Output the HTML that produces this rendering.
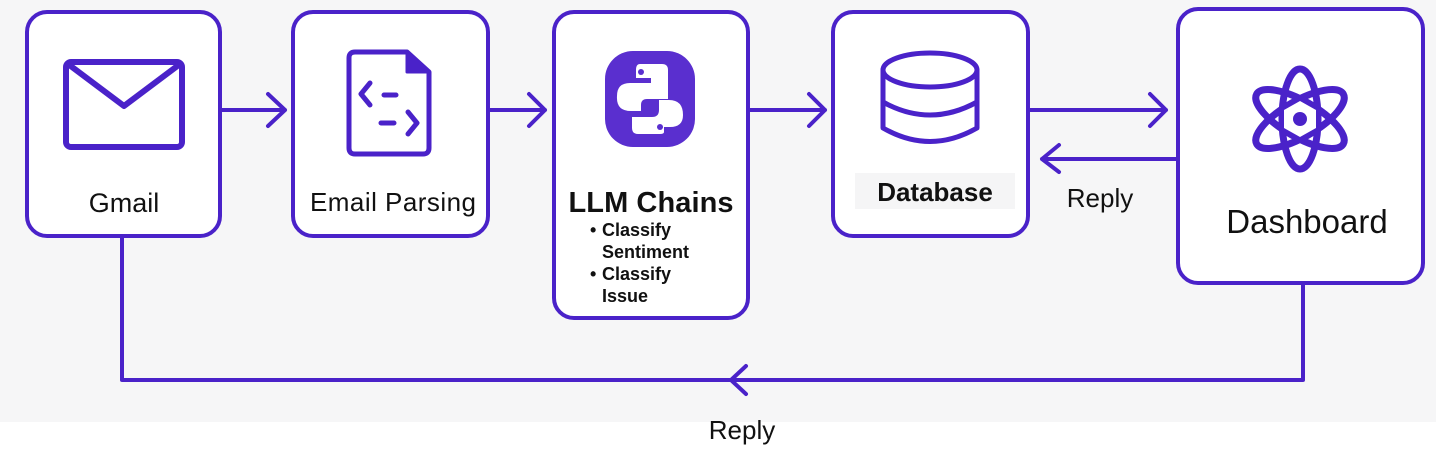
<!DOCTYPE html>
<html><head><meta charset="utf-8"><style>
html,body{margin:0;padding:0;background:#fff}
svg{display:block}
text{font-family:"Liberation Sans",sans-serif;fill:#111}
</style></head><body>
<svg width="1448" height="449" viewBox="0 0 1448 449" xmlns="http://www.w3.org/2000/svg">
<rect x="0" y="0" width="1436" height="422" fill="#f6f6f7"/>
<g fill="#fff" stroke="#4a22c9" stroke-width="4">
<rect x="27" y="12" width="193" height="224" rx="20"/>
<rect x="293" y="12" width="195" height="224" rx="20"/>
<rect x="554" y="12" width="194" height="306" rx="20"/>
<rect x="833" y="12" width="195" height="224" rx="20"/>
<rect x="1178" y="9" width="245" height="274" rx="20"/>
</g>
<g fill="none" stroke="#4a22c9" stroke-width="4" stroke-linecap="round" stroke-linejoin="round">
<path d="M220 110H285M268 94L285 110L268 126"/>
<path d="M488 110H545M529 94L545 110L529 126"/>
<path d="M748 110H825M809 94L825 110L809 126"/>
<path d="M1028 110H1166M1150 94L1166 110L1150 126"/>
<path d="M1178 159H1042M1059 145L1042 159L1059 172"/>
<path d="M122 236V380H1303V283" stroke-linecap="butt"/>
<path d="M746 366L731 380L746 394"/>
<!-- mail -->
<rect x="66" y="62" width="116" height="85" rx="5" stroke-width="6"/>
<path d="M68 64L124 106L180 64" stroke-width="6"/>
<!-- doc -->
<path d="M355 52H407L429 72V148Q429 154 423 154H355Q349 154 349 148V58Q349 52 355 52Z" stroke-width="5"/>
<path d="M407 52V72H429" fill="#4a22c9" stroke-width="3"/>
<path d="M370 83L361 94L370 105M384 95H396M381 123H394M408 112L417 123L408 134" stroke-width="5"/>
<!-- db -->
<ellipse cx="930" cy="70" rx="47" ry="17" stroke-width="5"/>
<path d="M883 70V128Q930 155 977 128V70M883 102Q930 128 977 102" stroke-width="5"/>
<!-- atom -->
<g transform="translate(1300,119)" stroke-width="7">
<ellipse rx="18" ry="50"/>
<ellipse rx="18" ry="50" transform="rotate(60)"/>
<ellipse rx="18" ry="50" transform="rotate(-60)"/>
</g>
</g>
<polygon points="1300,101 1316,110 1316,128 1300,137 1284,128 1284,110" fill="#fff"/>
<circle cx="1300" cy="119" r="7" fill="#4a22c9"/>
<!-- python -->
<rect x="605" y="51" width="90" height="96" rx="28" fill="#5a2fcf"/>
<g fill="#fff">
<path d="M640 64H662Q668 64 668 70V99H647Q641 99 641 105V111H631Q616 111 617 96Q617 83 630 83H651V78H636V70Q636 64 640 64Z"/>
<path d="M660 134H638Q632 134 632 128V117H652Q659 117 659 110V100H669Q683 100 683 115Q683 127 670 127H664V132Q664 134 660 134Z"/>
</g>
<circle cx="641" cy="72" r="3" fill="#5a2fcf"/><circle cx="660" cy="127" r="3" fill="#5a2fcf"/>
<text x="124" y="212" font-size="27" text-anchor="middle">Gmail</text>
<text x="393" y="211" font-size="26" text-anchor="middle" textLength="166">Email Parsing</text>
<text x="651" y="212" font-size="29" text-anchor="middle" font-weight="bold" textLength="165">LLM Chains</text>
<g font-size="18" font-weight="bold">
<text x="590" y="236">•</text><text x="602" y="236">Classify</text>
<text x="602" y="258">Sentiment</text>
<text x="590" y="280">•</text><text x="602" y="280">Classify</text>
<text x="602" y="302">Issue</text>
</g>
<rect x="855" y="173" width="160" height="36" fill="#f5f5f6"/>
<text x="935" y="201" font-size="26" font-weight="bold" text-anchor="middle">Database</text>
<text x="1100" y="207" font-size="26" text-anchor="middle">Reply</text>
<text x="1307" y="233" font-size="33" text-anchor="middle">Dashboard</text>
<text x="742" y="439" font-size="26" text-anchor="middle">Reply</text>
</svg>
</body></html>
